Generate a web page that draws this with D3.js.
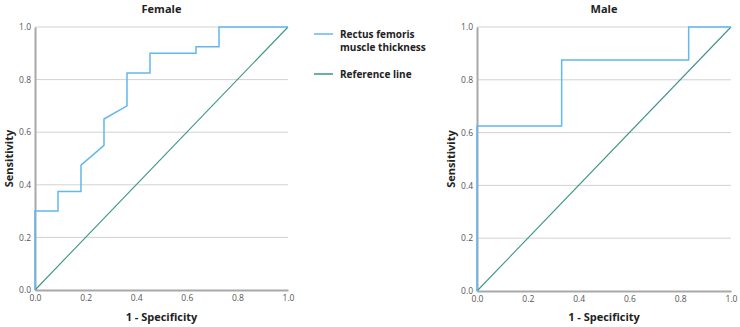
<!DOCTYPE html>
<html>
<head>
<meta charset="utf-8">
<script src="https://cdn.jsdelivr.net/npm/d3@7"></script>
<style>
  body { margin: 0; background: #fff; }
  text { font-family: "Open Sans", "Liberation Sans", sans-serif; }
</style>
</head>
<body>
<svg id="chart" width="740" height="327"></svg>
<script>
// ROC data
const femaleFpr  = [0, 0, 0.0909, 0.0909, 0.1818, 0.1818, 0.2727, 0.2727, 0.3636, 0.3636, 0.4545, 0.4545, 0.6364, 0.6364, 0.7273, 0.7273, 1];
const femaleSens = [0, 0.3, 0.3, 0.375, 0.375, 0.475, 0.55, 0.65, 0.7, 0.825, 0.825, 0.9, 0.9, 0.925, 0.925, 1, 1];
const maleFpr  = [0, 0, 0.3333, 0.3333, 0.8333, 0.8333, 1];
const maleSens = [0, 0.625, 0.625, 0.875, 0.875, 1, 1];
const tickValues = [0, 0.2, 0.4, 0.6, 0.8, 1.0];
const legendLabels = [["Rectus femoris", "muscle thickness"], ["Reference line"]];

const rocColor = "#62b7ee";
const refColor = "#3a9488";

const svg = d3.select("#chart");

function drawPanel(title, xs, ys, left, right, top, bottom) {
    const x = d3.scaleLinear().domain([0, 1]).range([left, right]);
    const y = d3.scaleLinear().domain([0, 1]).range([bottom, top]);
    const g = svg.append("g");

    // horizontal gridlines
    g.selectAll("line.grid")
        .data(tickValues.slice(1))
        .enter().append("line")
        .attr("x1", x(0)).attr("x2", x(1))
        .attr("y1", d => y(d)).attr("y2", d => y(d))
        .attr("stroke", "#d2d2d2").attr("stroke-width", 1);

    // axes
    const xAxis = g.append("g").attr("transform", `translate(0,${bottom})`)
        .call(d3.axisBottom(x).tickValues(tickValues).tickFormat(d3.format(".1f")).tickSize(0).tickPadding(5));
    const yAxis = g.append("g").attr("transform", `translate(${left},0)`)
        .call(d3.axisLeft(y).tickValues(tickValues).tickFormat(d3.format(".1f")).tickSize(0).tickPadding(4));
    [xAxis, yAxis].forEach(a => {
        a.select(".domain").attr("stroke", "#a8a8a8").attr("stroke-width", 2);
        a.selectAll("text").attr("fill", "#555").style("font-size", "8.5px");
    });

    // reference diagonal
    g.append("line")
        .attr("x1", x(0)).attr("y1", y(0)).attr("x2", x(1)).attr("y2", y(1))
        .attr("stroke", refColor).attr("stroke-width", 1.1);

    // ROC curve
    const pts = xs.map((v, i) => [v, ys[i]]);
    g.append("path")
        .datum(pts)
        .attr("d", d3.line().x(d => x(d[0])).y(d => y(d[1])))
        .attr("fill", "none").attr("stroke", rocColor).attr("stroke-width", 1.5);

    // titles
    g.append("text").attr("x", (left + right) / 2).attr("y", 13)
        .attr("text-anchor", "middle").style("font-size", "11px").style("font-weight", "bold")
        .attr("fill", "#222").text(title);
    g.append("text").attr("x", (left + right) / 2).attr("y", 321)
        .attr("text-anchor", "middle").style("font-size", "11px").style("font-weight", "bold")
        .attr("fill", "#222").text("1 - Specificity");
    g.append("text")
        .attr("transform", `translate(${left - 22},${(top + bottom) / 2}) rotate(-90)`)
        .attr("text-anchor", "middle").style("font-size", "11px").style("font-weight", "bold")
        .attr("fill", "#222").text("Sensitivity");
}

drawPanel("Female", femaleFpr, femaleSens, 35, 288, 27, 290);
drawPanel("Male", maleFpr, maleSens, 477, 731, 27, 291);

// legend
const legend = svg.append("g");
const legendY = [34, 74];
const legendColors = [rocColor, refColor];
legendLabels.forEach((lines, i) => {
    legend.append("line")
        .attr("x1", 314).attr("x2", 333).attr("y1", legendY[i]).attr("y2", legendY[i])
        .attr("stroke", legendColors[i]).attr("stroke-width", 1.5);
    lines.forEach((t, j) => {
        legend.append("text")
            .attr("x", 340).attr("y", legendY[i] + 3.5 + j * 13)
            .style("font-size", "10px").style("font-weight", "bold")
            .attr("fill", "#222").text(t);
    });
});
</script>
</body>
</html>
